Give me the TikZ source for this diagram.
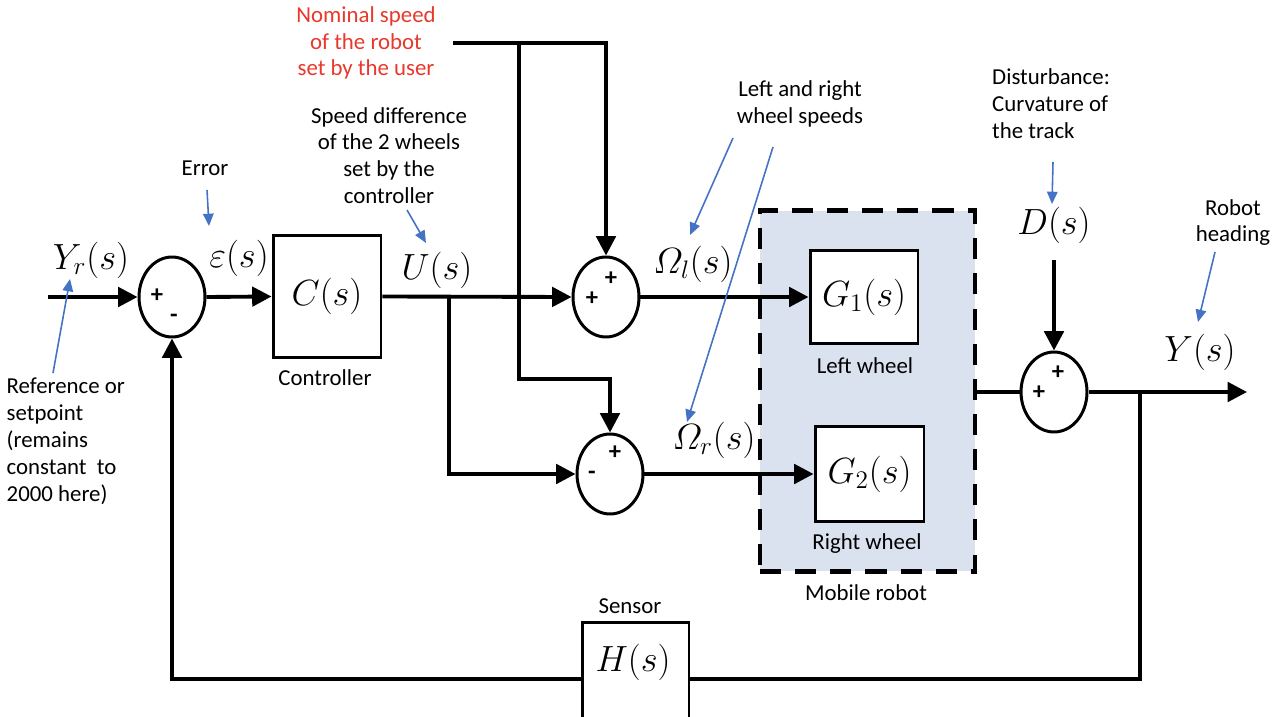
\documentclass[tikz,border=0pt]{standalone}
\usepackage{amsmath}
\usepackage[no-math]{fontspec}
\setmainfont{Carlito}
\usetikzlibrary{arrows.meta,shapes.geometric}

\definecolor{hintblue}{HTML}{4472C4}
\definecolor{robotfill}{HTML}{DAE1EF}
\definecolor{userred}{HTML}{E8382C}

\begin{document}
\begin{tikzpicture}[
    x=0.02cm, y=-0.02cm,
    >={Triangle[length=11pt,width=11pt]},
    every node/.style={font=\fontsize{13}{15.3}\selectfont},
    block/.style={draw, line width=1.7pt, fill=white, inner sep=0pt},
    sumnode/.style={draw, ellipse, line width=1.7pt, fill=white,
        minimum width=1.32cm, minimum height=1.6cm, inner sep=0pt},
    sig/.style={line width=2.2pt},
    hint/.style={draw=hintblue, line width=0.9pt,
        -{Triangle[length=7pt,width=6pt]}},
    mathlbl/.style={font=\fontsize{19.5}{21}\selectfont},
    sign/.style={font=\bfseries\fontsize{14}{14}\selectfont, inner sep=0pt}
]

\useasboundingbox (0,0) rectangle (1280,716);
\clip (0,0) rectangle (1280,716);

% ============================================================
% Mobile robot (dashed frame)
% ============================================================
\node[draw, fill=robotfill, line width=2.8pt, dash pattern=on 12pt off 8pt,
      minimum width=4.3cm, minimum height=7.22cm, inner sep=0pt]
    (robot) at (867.5,391) {};
\node (robotT) at (866,593) {Mobile robot};

% ============================================================
% Blocks
% ============================================================
\node[block, minimum width=2.16cm, minimum height=2.46cm]
    (ctrl) at (327,296.5) {\fontsize{20}{22}\selectfont$C(s)$};
\node (ctrlT) at (325,378) {Controller};

\node[block, minimum width=2.16cm, minimum height=1.88cm]
    (g1) at (864,297) {\fontsize{20}{22}\selectfont$G_1(s)$};
\node (g1T) at (865,366) {Left wheel};

\node[block, minimum width=2.18cm, minimum height=1.9cm]
    (g2) at (869.5,474) {\fontsize{20}{22}\selectfont$G_2(s)$};
\node (g2T) at (867,544) {Right wheel};

\node[block, minimum width=2.14cm, minimum height=2.28cm]
    (sens) at (635.5,679) {};
\node[mathlbl] (sensM) at (633,662) {$H(s)$};
\node (sensT) at (630,606) {Sensor};

% ============================================================
% Summing points
% ============================================================
\node[sumnode] (sumE) at (172,297) {};
\node[sign] (sumE1) at (157,296) {+};
\node[sign] (sumE2) at (174,318) {-};

\node[sumnode] (sumL) at (606,297) {};
\node[sign] (sumL1) at (611,279) {+};
\node[sign] (sumL2) at (592,299) {+};

\node[sumnode] (sumR) at (610,474) {};
\node[sign] (sumR1) at (615,453) {+};
\node[sign] (sumR2) at (592,475) {-};

\node[sumnode] (sumD) at (1054,392) {};
\node[sign] (sumD1) at (1058,373) {+};
\node[sign] (sumD2) at (1039,393) {+};

% ============================================================
% Signals
% ============================================================
\coordinate (in) at (48,297);
\coordinate (split) at (449,297);
\coordinate (nom) at (453,43);
\coordinate (nomA) at (519,43);
\coordinate (nomB) at (519,379);
\coordinate (distIn) at (1054,260);
\coordinate (tap) at (1140,392);
\coordinate (tapB) at (1140,679);
\coordinate (fbB) at (172,679);
\coordinate (out) at (1247,392);

\draw[sig,->] (in) -- (sumE.west);
\draw[sig,->] (sumE.east) -- (ctrl.west);
\draw[sig,->] (ctrl.east) -- (sumL.west);
\draw[sig,->] (split) |- (sumR.west);

\draw[sig,->] (nom) -| (sumL.north);
\draw[sig,->] (nomA) -- (nomB) -| (sumR.north);

\draw[sig,->] (sumL.east) -- (g1.west);
\draw[sig,->] (sumR.east) -- (g2.west);

\draw[sig] (sumD.west -| robot.east) -- (sumD.west);
\draw[sig,->] (distIn) -- (sumD.north);
\draw[sig,->] (sumD.east) -- (out);

% feedback
\draw[sig] (tap) -- (tapB) -- (sens.east);
\draw[sig,->] (sens.west) -- (fbB) -- (sumE.south);

% ============================================================
% Signal names
% ============================================================
\node[mathlbl] (yr) at (91,260) {$Y_r(s)$};
\node[mathlbl] (eps) at (239,258) {$\varepsilon(s)$};
\node[mathlbl] (us) at (437,270) {$U(s)$};
\node[mathlbl] (oml) at (693,264) {$\varOmega_l(s)$};
\node[mathlbl] (omr) at (714,440) {$\varOmega_r(s)$};
\node[mathlbl] (dist) at (1054,225) {$D(s)$};
\node[mathlbl] (ys) at (1200,352) {$Y(s)$};

% ============================================================
% Notes with blue arrows
% ============================================================
\node[text=userred, align=center] (nomT) at (366,43)
    {Nominal speed\\of the robot\\set by the user};

\node[align=center] (udiffT) at (389,155.5)
    {Speed difference\\of the 2 wheels\\set by the\\controller};
\coordinate (udiffA) at (407,210);
\coordinate (udiffB) at (426,243);
\draw[hint] (udiffA) -- (udiffB);

\node (errT) at (205,168) {Error};
\coordinate (errA) at (207,190);
\coordinate (errB) at (209,226);
\draw[hint] (errA) -- (errB);

\node[align=left, anchor=west] (refT) at (0.5,441)
    {Reference or\\setpoint\\(remains\\constant\ \ to\\2000 here)};
\coordinate (refA) at (53,373);
\coordinate (refB) at (70,279);
\draw[hint] (refA) -- (refB);

\node[align=center] (wheelT) at (800,103.5)
    {Left and right\\wheel speeds};
\coordinate (wlA) at (733,138);
\coordinate (wlB) at (690,235);
\coordinate (wrA) at (773,147);
\coordinate (wrB) at (687,422);
\draw[hint] (wlA) -- (wlB);
\draw[hint] (wrA) -- (wrB);

\node[align=left, anchor=west] (distT) at (986,104)
    {Disturbance:\\Curvature of\\the track};
\coordinate (distA) at (1053,162);
\coordinate (distB) at (1052,204);
\draw[hint] (distA) -- (distB);

\node[align=center] (headT) at (1233,222.5) {Robot\\heading};
\coordinate (headA) at (1215,252);
\coordinate (headB) at (1198,322);
\draw[hint] (headA) -- (headB);

\end{tikzpicture}
\end{document}
